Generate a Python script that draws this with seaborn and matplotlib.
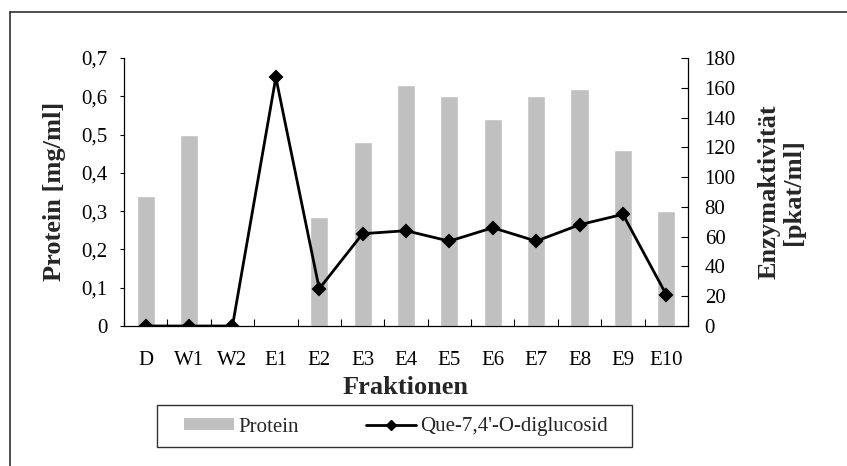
import numpy as np
import pandas as pd
import matplotlib
matplotlib.use("Agg")
import matplotlib.pyplot as plt
from matplotlib.ticker import FuncFormatter, FixedLocator
from matplotlib.patches import Rectangle, Patch
from matplotlib.lines import Line2D
import seaborn as sns

# ---- data ----
fractions = ["D", "W1", "W2", "E1", "E2", "E3", "E4", "E5", "E6", "E7", "E8", "E9", "E10"]
protein = [0.34, 0.50, 0.0, 0.0, 0.285, 0.48, 0.63, 0.60, 0.54, 0.60, 0.62, 0.46, 0.30]
activity = [0, 0, 0, 167, 25, 62, 64, 57, 66, 57, 68, 75, 21]
left_ticks = [0, 0.1, 0.2, 0.3, 0.4, 0.5, 0.6, 0.7]
right_ticks = [0, 20, 40, 60, 80, 100, 120, 140, 160, 180]

df = pd.DataFrame({"Fraktion": fractions, "Protein": protein, "Aktivitaet": activity})

sns.set_theme(style="white")
plt.rcParams["font.family"] = ["Liberation Serif", "DejaVu Serif"]

W, H = 847, 466
fig = plt.figure(figsize=(W / 100, H / 100), dpi=100)
ax = fig.add_axes([124 / W, 1 - 326 / H, (688 - 124) / W, (326 - 58) / H])

bar_color = "#c0c0c0"
sns.barplot(data=df, x="Fraktion", y="Protein", order=fractions, color=bar_color,
            width=0.42, saturation=1, ax=ax)
ax.set_ylim(0, 0.7)
ax.set_xlim(-0.5, len(fractions) - 0.5)

ax2 = ax.twinx()
sns.pointplot(data=df, x="Fraktion", y="Aktivitaet", order=fractions, color="black",
              markers="D", markersize=6, linewidth=2.0, ax=ax2)
ax2.set_ylim(0, 180)
ax2.set_xlim(-0.5, len(fractions) - 0.5)

# spines
for a in (ax, ax2):
    for s in a.spines.values():
        s.set_visible(False)
    a.grid(False)
    a.set_xlabel("")
    a.set_ylabel("")
ax.spines["left"].set_visible(True)
ax.spines["bottom"].set_visible(True)
ax2.spines["right"].set_visible(True)
for sp in (ax.spines["left"], ax.spines["bottom"], ax2.spines["right"]):
    sp.set_color("black")
    sp.set_linewidth(0.9)

# left y ticks
ax.yaxis.set_major_locator(FixedLocator(left_ticks))
ax.yaxis.set_major_formatter(FuncFormatter(lambda v, p: "0" if abs(v) < 1e-9 else f"{v:.1f}".replace(".", ",")))
ax.tick_params(axis="y", which="major", direction="out", length=3, width=0.8, color="black",
               labelsize=15, pad=9, left=True, labelcolor="black")

# right y ticks
ax2.yaxis.set_major_locator(FixedLocator(right_ticks))
ax2.tick_params(axis="y", which="major", direction="in", length=5, width=0.8, color="black",
                labelsize=15, pad=12, right=True, labelcolor="black")

# x ticks: labels at centers, tick marks at boundaries
ax.set_xticks(range(len(fractions)))
ax.set_xticklabels(fractions)
ax.set_xticks(np.arange(-0.5, len(fractions), 1.0), minor=True)
ax.tick_params(axis="x", which="major", length=0, labelsize=15, pad=18, labelcolor="black")
ax.tick_params(axis="x", which="minor", direction="in", length=5, width=0.8, color="black", bottom=True)
ax2.tick_params(axis="x", which="both", bottom=False, top=False, labelbottom=False)

# axis titles
fig.text(406 / W, 1 - 387 / H, "Fraktionen", ha="center", va="center",
         fontsize=19, fontweight="bold")
fig.text(55 / W, 1 - 191 / H, "Protein [mg/ml]", ha="center", va="center",
         rotation=90, fontsize=19, fontweight="bold")
fig.text(781 / W, 1 - 192 / H, "Enzymaktivität\n[pkat/ml]", ha="center", va="center",
         rotation=90, fontsize=19, fontweight="bold", multialignment="center",
         linespacing=1.1)

# legend
handles = [Patch(facecolor=bar_color, edgecolor="none", label="Protein"),
           Line2D([], [], color="black", lw=2.0, marker="D", markersize=5.5,
                  label="Que-7,4'-O-diglucosid")]
fig.legend(handles=handles, loc="center", bbox_to_anchor=(396 / W, 1 - 427 / H),
           ncol=2, frameon=False, fontsize=15, handlelength=2.4, handleheight=0.5,
           handletextpad=0.2, columnspacing=3.2, borderaxespad=0, borderpad=0)
fig.add_artist(Rectangle((157 / W, 1 - 447 / H), (632 - 157) / W, (447 - 405) / H,
                         transform=fig.transFigure, fill=False, edgecolor="#303030", lw=1.0))

# outer frame (top and left only visible)
fig.add_artist(Line2D([10 / W, 10 / W], [0, 1 - 12 / H], transform=fig.transFigure,
                      color="#303030", lw=1.2))
fig.add_artist(Line2D([10 / W, 1], [1 - 12 / H, 1 - 12 / H], transform=fig.transFigure,
                      color="#303030", lw=1.2))

fig.savefig("out.png", dpi=100)
